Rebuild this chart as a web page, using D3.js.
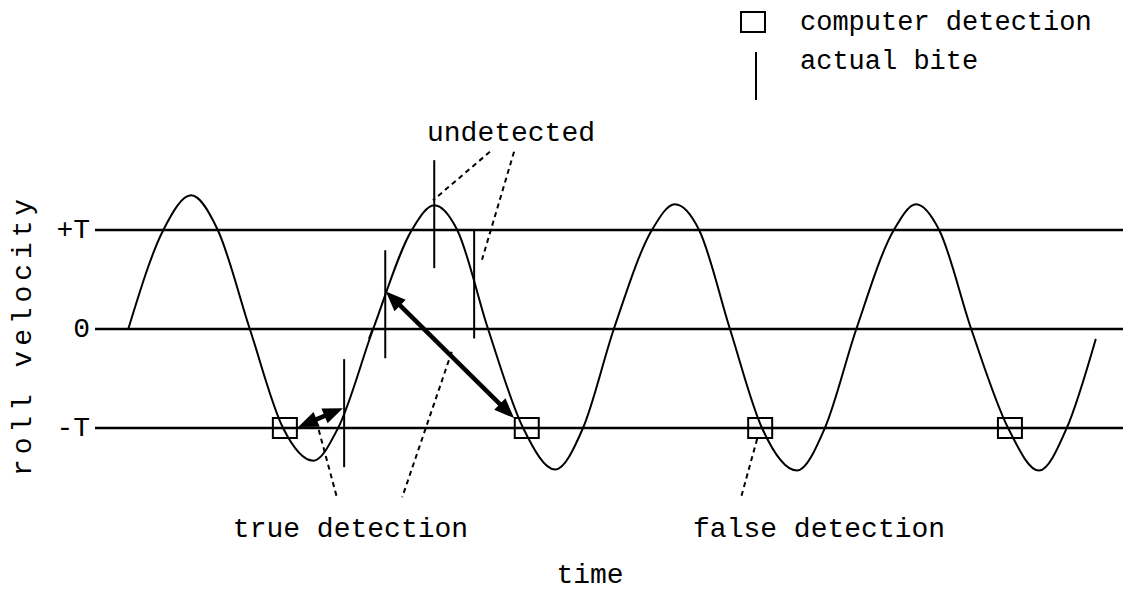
<!DOCTYPE html>
<html>
<head>
<meta charset="utf-8">
<script src="https://cdn.jsdelivr.net/npm/d3@7"></script>
<style>
  body { margin: 0; background: #fff; }
  text { font-family: "Courier New", "Liberation Mono", monospace; fill: #000; }
</style>
</head>
<body>
<div id="chart"></div>
<script>
// roll velocity trace: time (arbitrary units) and velocity (in units of T)
const traceTime = [0.55, 1.13, 1.59, 2.03, 2.56, 3.11, 3.61, 4.02, 4.6, 5.24, 5.61, 5.99, 6.5,
  7.08, 7.61, 8.07, 8.58, 9.21, 9.59, 9.99, 10.5, 11.03, 11.61, 12.07, 12.59,
  13.21, 13.58, 13.96, 14.49, 15.1, 15.61, 16.07, 16.55];
const traceVelocity = [0, 1, 1.35, 1, 0, -1, -1.33, -1, 0, 1, 1.25, 1, 0,
  -1, -1.42, -1, 0, 1, 1.26, 1, 0, -1, -1.43, -1, 0,
  1, 1.26, 1, 0, -1, -1.43, -1, -0.1];

// computer detections (squares on the -T line)
const detectTime = [3.14, 7.14, 11.0, 15.13];
const detectVelocity = [-1, -1, -1, -1];

// actual bites (vertical bars)
const biteTime = [4.12, 4.8, 5.61, 6.27];
const biteVelocity = [-0.85, 0.25, 1.16, 0.45];

// threshold lines
const thresholdValues = [1, 0, -1];
const thresholdLabels = ["+T", "0", "-T"];

// delay arrows between detection and bite: [t1, v1, t2, v2]
const arrowSegments = [
  [3.36, -0.99, 4.1, -0.8],
  [4.81, 0.38, 6.93, -0.9]
];

// dotted callout lines: [t1, v1, t2, v2]
const calloutSegments = [
  [6.53, 1.79, 5.59, 1.3],
  [6.93, 1.79, 6.4, 0.7],
  [3.7, -1.02, 4.0, -1.7],
  [5.9, -0.23, 5.08, -1.7],
  [10.95, -1.11, 10.68, -1.71]
];
const strayMark = [4.53, -0.1, 4.6, 0.01];

const calloutLabels = ["undetected", "true detection", "false detection"];
const calloutLabelTime = [5.49, 2.28, 9.89];
const calloutLabelVelocity = [1.9, -2.1, -2.1];

const legendLabels = ["computer detection", "actual bite"];

function drawChart() {
  let W = 1123, H = 592;

  let svg = d3.select("#chart")
    .append("svg")
    .attr("width", W)
    .attr("height", H);

  //////////
  // SCALES //
  //////////
  let x = d3.scaleLinear().domain([0, 17]).range([95, 1123]);
  let y = d3.scaleLinear().domain([-1, 1]).range([428, 230]);

  //////////
  // THRESHOLDS //
  //////////
  svg.selectAll("line.thresh")
    .data(thresholdValues)
    .enter()
    .append("line")
    .attr("class", "thresh")
    .attr("x1", x(0))
    .attr("x2", x(17))
    .attr("y1", d => y(d))
    .attr("y2", d => y(d))
    .style("stroke", "#000")
    .style("stroke-width", 2.6);

  svg.selectAll("text.tick")
    .data(thresholdValues)
    .enter()
    .append("text")
    .attr("class", "tick")
    .attr("x", x(0) - 5)
    .attr("y", d => y(d))
    .attr("text-anchor", "end")
    .attr("dominant-baseline", "central")
    .style("font-size", "28px")
    .text((d, i) => thresholdLabels[i]);

  //////////
  // TRACE //
  //////////
  let trace = traceTime.map((t, i) => ({ t: t, v: traceVelocity[i] }));
  let line = d3.line()
    .x(d => x(d.t))
    .y(d => y(d.v))
    .curve(d3.curveMonotoneX);

  svg.append("path")
    .datum(trace)
    .attr("d", line)
    .style("fill", "none")
    .style("stroke", "#000")
    .style("stroke-width", 2);

  //////////
  // BITES //
  //////////
  let biteHalf = 54;
  svg.selectAll("line.bite")
    .data(biteTime)
    .enter()
    .append("line")
    .attr("class", "bite")
    .attr("x1", d => x(d))
    .attr("x2", d => x(d))
    .attr("y1", (d, i) => y(biteVelocity[i]) - biteHalf)
    .attr("y2", (d, i) => y(biteVelocity[i]) + biteHalf)
    .style("stroke", "#000")
    .style("stroke-width", 2);

  svg.append("line")
    .attr("x1", x(strayMark[0]))
    .attr("y1", y(strayMark[1]))
    .attr("x2", x(strayMark[2]))
    .attr("y2", y(strayMark[3]))
    .style("stroke", "#000")
    .style("stroke-width", 2);

  //////////
  // DETECTIONS //
  //////////
  let boxW = 24, boxH = 20;
  svg.selectAll("rect.detect")
    .data(detectTime)
    .enter()
    .append("rect")
    .attr("class", "detect")
    .attr("x", d => x(d) - boxW / 2)
    .attr("y", (d, i) => y(detectVelocity[i]) - boxH / 2)
    .attr("width", boxW)
    .attr("height", boxH)
    .style("fill", "none")
    .style("stroke", "#000")
    .style("stroke-width", 2);

  //////////
  // CALLOUTS //
  //////////
  svg.selectAll("line.callout")
    .data(calloutSegments)
    .enter()
    .append("line")
    .attr("class", "callout")
    .attr("x1", d => x(d[0]))
    .attr("y1", d => y(d[1]))
    .attr("x2", d => x(d[2]))
    .attr("y2", d => y(d[3]))
    .style("stroke", "#000")
    .style("stroke-width", 2)
    .style("stroke-dasharray", "5,4");

  svg.selectAll("text.callout")
    .data(calloutLabels)
    .enter()
    .append("text")
    .attr("class", "callout")
    .attr("x", (d, i) => x(calloutLabelTime[i]))
    .attr("y", (d, i) => y(calloutLabelVelocity[i]))
    .style("font-size", "28px")
    .text(d => d);

  //////////
  // ARROWS //
  //////////
  let headLen = 20, headW = 8;
  arrowSegments.forEach(seg => {
    let x1 = x(seg[0]), y1 = y(seg[1]), x2 = x(seg[2]), y2 = y(seg[3]);
    let a = Math.atan2(y2 - y1, x2 - x1);
    let cos = Math.cos(a), sin = Math.sin(a);
    svg.append("line")
      .attr("x1", x1 + cos * headLen * 0.8)
      .attr("y1", y1 + sin * headLen * 0.8)
      .attr("x2", x2 - cos * headLen * 0.8)
      .attr("y2", y2 - sin * headLen * 0.8)
      .style("stroke", "#000")
      .style("stroke-width", 4.5);
    // heads at both ends
    [[x1, y1, 1], [x2, y2, -1]].forEach(p => {
      let bx = p[0] + p[2] * cos * headLen, by = p[1] + p[2] * sin * headLen;
      let pts = [
        [p[0], p[1]],
        [bx - sin * headW, by + cos * headW],
        [bx + sin * headW, by - cos * headW]
      ];
      svg.append("polygon")
        .attr("points", pts.map(q => q.join(",")).join(" "))
        .style("fill", "#000");
    });
  });

  //////////
  // AXIS TITLES //
  //////////
  svg.append("text")
    .attr("x", 590)
    .attr("y", 583)
    .attr("text-anchor", "middle")
    .style("font-size", "28px")
    .text("time");

  svg.append("text")
    .attr("transform", "translate(31," + 335 + ") rotate(-90)")
    .attr("text-anchor", "middle")
    .style("font-size", "28px")
    .style("letter-spacing", "4.9px")
    .text("roll velocity");

  //////////
  // LEGEND //
  //////////
  svg.append("rect")
    .attr("x", 741)
    .attr("y", 12)
    .attr("width", boxW)
    .attr("height", boxH)
    .style("fill", "none")
    .style("stroke", "#000")
    .style("stroke-width", 2);
  svg.append("line")
    .attr("x1", 756)
    .attr("x2", 756)
    .attr("y1", 52)
    .attr("y2", 100)
    .style("stroke", "#000")
    .style("stroke-width", 2);
  svg.selectAll("text.legend")
    .data(legendLabels)
    .enter()
    .append("text")
    .attr("class", "legend")
    .attr("x", 800)
    .attr("y", (d, i) => 30 + i * 39)
    .style("font-size", "27px")
    .text(d => d);
}
drawChart();
</script>
</body>
</html>
